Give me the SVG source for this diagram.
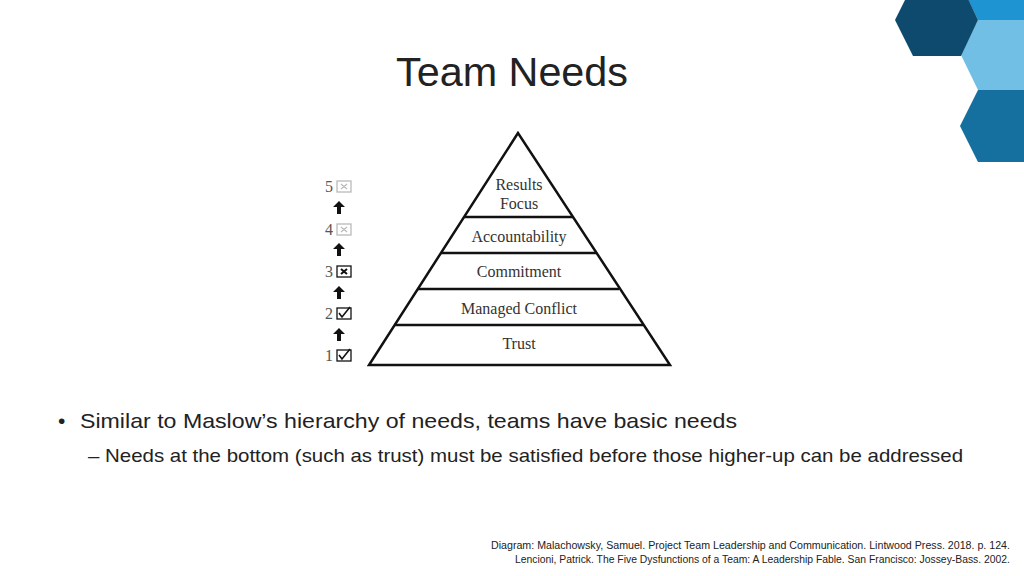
<svg xmlns="http://www.w3.org/2000/svg" width="1024" height="576" viewBox="0 0 1024 576">
<style>
.p{font-family:"Liberation Serif",serif;font-size:16px;fill:#333;text-anchor:middle}
.n{font-family:"Liberation Serif",serif;font-size:16px;fill:#555}
.s{font-family:"Liberation Sans",Carlito,sans-serif;fill:#222}
.ln{stroke:#111;stroke-width:2.5;fill:none}
.box{fill:none;stroke-width:1.3}
</style>
<rect width="1024" height="576" fill="#fff"/>
<g id="hexes">
<polygon points="961,-15 978,-50 1040,-50 1040,20 978,20" fill="#1e94d2"/>
<polygon points="961,55 978,20 1040,20 1040,90 978,90" fill="#72bfe5"/>
<polygon points="960,126 978,90 1040,90 1040,162 978,162" fill="#15709f"/>
<polygon points="895,20 913,-16 961,-16 978,20 961,56 913,56" fill="#0e4a6e"/>
</g>
<text id="title" x="396" y="86" class="s" font-size="40" textLength="232" lengthAdjust="spacingAndGlyphs">Team Needs</text>
<g id="pyramid">
<polygon points="518,133 369,365 670,365" class="ln" stroke-linejoin="miter"/>
<line x1="464" y1="217" x2="573" y2="217" class="ln"/>
<line x1="441" y1="253" x2="596" y2="253" class="ln"/>
<line x1="418" y1="289" x2="619" y2="289" class="ln"/>
<line x1="394" y1="325" x2="643" y2="325" class="ln"/>
<text class="p" x="519" y="190">Results</text>
<text class="p" x="519" y="209">Focus</text>
<text class="p" x="519" y="242">Accountability</text>
<text class="p" x="519" y="277">Commitment</text>
<text class="p" x="519" y="314">Managed Conflict</text>
<text class="p" x="519" y="349">Trust</text>
</g>
<g id="levels">
<text class="n" x="325" y="192">5</text><rect x="337" y="181" width="14" height="11" class="box" stroke="#bbb"/>
<text class="n" x="325" y="235">4</text><rect x="337" y="224" width="14" height="11" class="box" stroke="#bbb"/>
<text class="n" x="325" y="277">3</text><rect x="337" y="266" width="14" height="11" class="box" stroke="#111" stroke-width="2"/>
<text class="n" x="325" y="319">2</text><rect x="337" y="308" width="14" height="11" class="box" stroke="#111"/>
<text class="n" x="325" y="361">1</text><rect x="337" y="350" width="14" height="11" class="box" stroke="#111"/>
<path d="M341,184l6,5M347,184l-6,5M341,227l6,5M347,227l-6,5" stroke="#bbb" stroke-width="1.2"/>
<path d="M341,269l6,5M347,269l-6,5" stroke="#111" stroke-width="2"/>
<path d="M339,313l3,4l8,-10M339,355l3,4l8,-10" stroke="#111" stroke-width="1.6" fill="none"/>
<g fill="#111">
<path d="M339,201l-6,6h4v7h4v-7h4z"/>
<path d="M339,243l-6,6h4v7h4v-7h4z"/>
<path d="M339,286l-6,6h4v7h4v-7h4z"/>
<path d="M339,328l-6,6h4v7h4v-7h4z"/>
</g>
</g>
<g id="bullets" class="s">
<text x="58" y="428" font-size="21">•</text>
<text x="80" y="428" font-size="21" textLength="657" lengthAdjust="spacingAndGlyphs">Similar to Maslow’s hierarchy of needs, teams have basic needs</text>
<text x="88" y="462" font-size="19" textLength="875" lengthAdjust="spacingAndGlyphs">– Needs at the bottom (such as trust) must be satisfied before those higher-up can be addressed</text>
</g>
<g id="citation" class="s" font-size="10">
<text x="491" y="549" textLength="519" lengthAdjust="spacingAndGlyphs">Diagram: Malachowsky, Samuel. Project Team Leadership and Communication. Lintwood Press. 2018. p. 124.</text>
<text x="515" y="563" textLength="495" lengthAdjust="spacingAndGlyphs">Lencioni, Patrick. The Five Dysfunctions of a Team: A Leadership Fable. San Francisco: Jossey-Bass. 2002.</text>
</g>
</svg>
